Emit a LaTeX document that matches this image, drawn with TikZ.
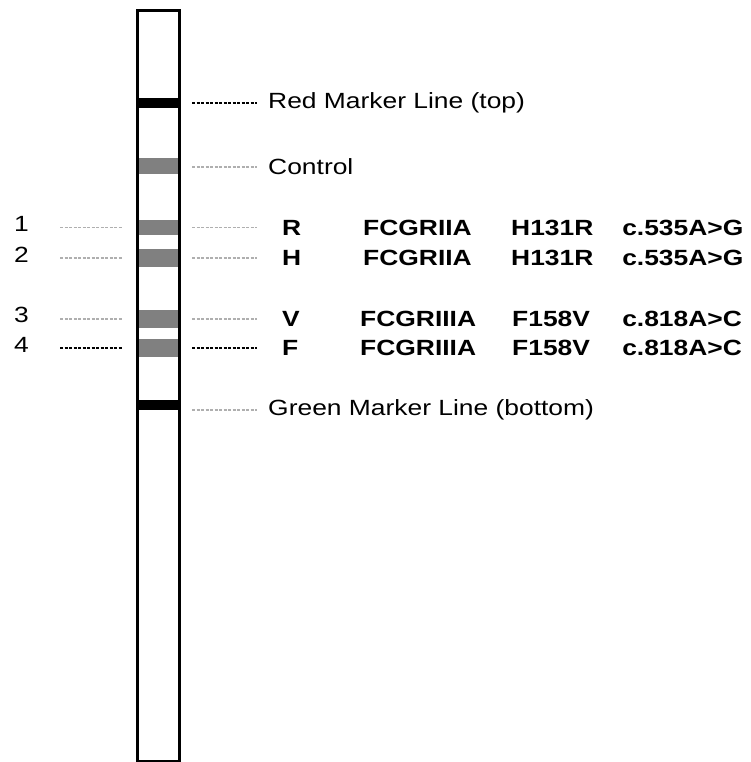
\documentclass[tikz,border=0pt]{standalone}
\usepackage{fontspec}
\setmainfont{Liberation Sans}
\usepackage{tikz}
\usetikzlibrary{positioning}

\definecolor{bandgray}{RGB}{128,128,128}
\definecolor{leadgray}{RGB}{175,175,175}

\tikzset{
  band/.style={rectangle, inner sep=0pt, minimum width=39pt, draw=none},
  lbl/.style={anchor=west, inner sep=0pt, xscale=1.2, font=\fontsize{22}{24}\selectfont},
  blbl/.style={lbl, font=\fontsize{22}{24}\selectfont\bfseries},
  leadblk/.style={line width=1.3pt, dash pattern=on 3pt off 1.5pt, black},
  leadgry/.style={line width=1.3pt, dash pattern=on 3pt off 1.5pt, leadgray}
}

\begin{document}
\begin{tikzpicture}[x=1pt, y=-1pt]
\useasboundingbox (0,0) rectangle (751,762);

% strip
\node[draw, line width=3pt, minimum width=42pt, minimum height=750.5pt, inner sep=0pt] (strip) at (158.5,385.75) {};

% bands
\node[band, fill=black, minimum height=10pt] (red) at (158.5,103) {};
\node[band, fill=bandgray, minimum height=16pt] (ctl) at (158.5,166) {};
\node[band, fill=bandgray, minimum height=15pt] (b1) at (158.5,227.5) {};
\node[band, fill=bandgray, minimum height=18pt] (b2) at (158.5,258) {};
\node[band, fill=bandgray, minimum height=18pt] (b3) at (158.5,319) {};
\node[band, fill=bandgray, minimum height=18pt] (b4) at (158.5,348) {};
\node[band, fill=black, minimum height=10pt] (green) at (158.5,405) {};

% labels
\node[lbl] (redlbl) at (268,103) {Red Marker Line (top)};
\node[lbl] (ctllbl) at (268,167) {Control};
\node[lbl] (greenlbl) at (268,410) {Green Marker Line (bottom)};

\node[blbl] (a1) at (282,227.5) {R};
\node[blbl] (a2) at (282,258) {H};
\node[blbl] (a3) at (282,319) {V};
\node[blbl] (a4) at (282,348) {F};

\node[blbl] (g1) at (363,227.5) {FCGRIIA};
\node[blbl] (g2) at (363,258) {FCGRIIA};
\node[blbl] (g3) at (360,319) {FCGRIIIA};
\node[blbl] (g4) at (360,348) {FCGRIIIA};

\node[blbl] (m1) at (511,227.5) {H131R};
\node[blbl] (m2) at (511,258) {H131R};
\node[blbl] (m3) at (512,319) {F158V};
\node[blbl] (m4) at (512,348) {F158V};

\node[blbl] (c1) at (622,227.5) {c.535A>G};
\node[blbl] (c2) at (622,258) {c.535A>G};
\node[blbl] (c3) at (622,319) {c.818A>C};
\node[blbl] (c4) at (622,348) {c.818A>C};

\node[lbl] (n1) at (14,224) {1};
\node[lbl] (n2) at (14,255) {2};
\node[lbl] (n3) at (14,315) {3};
\node[lbl] (n4) at (14,345) {4};

% leader lines
\draw[leadblk, shorten <=14pt, shorten >=11pt] (redlbl.west -| red.east) -- (redlbl.west);
\draw[leadgry, shorten <=14pt, shorten >=11pt] (ctllbl.west -| ctl.east) -- (ctllbl.west);
\draw[leadgry, shorten <=14pt, shorten >=25pt] (b1.east) -- (a1.west);
\draw[leadgry, shorten <=14pt, shorten >=25pt] (b2.east) -- (a2.west);
\draw[leadgry, shorten <=14pt, shorten >=25pt] (b3.east) -- (a3.west);
\draw[leadblk, shorten <=14pt, shorten >=25pt] (b4.east) -- (a4.west);
\draw[leadgry, shorten <=14pt, shorten >=11pt] (greenlbl.west -| green.east) -- (greenlbl.west);

\draw[leadgry, shorten >=17pt] (n1.east |- b1.west) ++(31,0) -- (b1.west);
\draw[leadgry, shorten >=17pt] (n2.east |- b2.west) ++(31,0) -- (b2.west);
\draw[leadgry, shorten >=17pt] (n3.east |- b3.west) ++(31,0) -- (b3.west);
\draw[leadblk, shorten >=17pt] (n4.east |- b4.west) ++(31,0) -- (b4.west);
\end{tikzpicture}
\end{document}
